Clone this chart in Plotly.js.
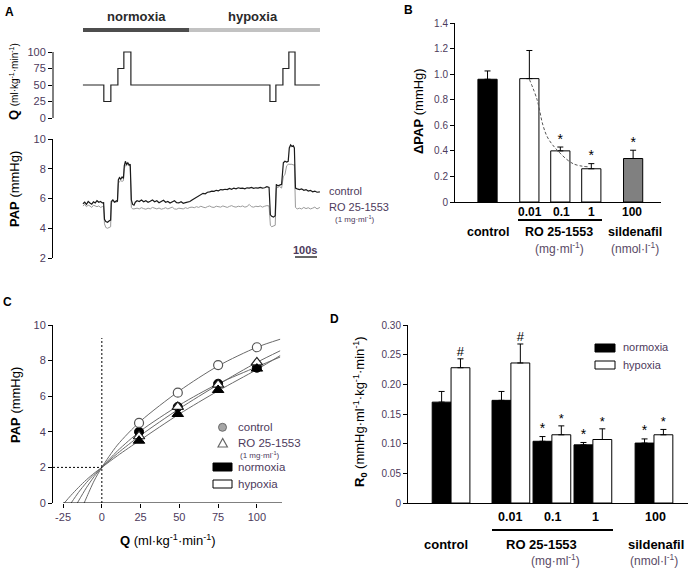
<!DOCTYPE html>
<html><head><meta charset="utf-8">
<script src="https://cdn.plot.ly/plotly-3.0.1.min.js"></script>
<style>html,body{margin:0;padding:0;background:#fff}</style>
</head><body><div id="chart" style="width:693px;height:571px"></div>
<script>
// ---------- Panel A data ----------
const flowTime = [0,95,127,159,186,218,850,877,909,936,964,1077];
const flowQ    = [50,25,50,75,100,50,25,50,75,100,50,50];
const papTime = [0,8,16,24,32,40,48,56,64,72,80,88,94,
  98,104,112,120,126,
  129,136,144,152,157,
  161,166,172,178,184,
  188,193,198,204,210,215,
  220,226,232,238,
  246,256,266,276,286,296,306,316,326,336,346,356,366,376,386,396,406,416,426,436,446,456,466,476,486,
  496,506,516,526,536,546,556,566,576,586,596,606,616,626,636,646,656,666,676,686,696,706,716,726,736,746,756,766,776,786,796,806,816,826,836,846,
  852,858,866,874,
  879,886,894,903,
  911,918,926,933,
  938,944,950,956,961,
  966,974,984,994,1004,1014,1024,1034,1044,1054,1064,1077];
const papControl = [5.65,5.75,5.6,5.8,5.7,5.62,5.78,5.7,5.85,5.75,5.8,5.7,5.72,
  4.6,4.45,4.4,4.5,4.55,
  5.8,5.9,5.75,5.85,5.8,
  7.25,7.4,7.3,7.45,7.35,
  8.2,8.5,8.3,8.4,8.25,8.3,
  5.9,5.6,5.55,5.75,
  5.85,5.8,5.9,5.78,5.85,5.75,5.82,5.9,5.78,5.85,5.72,5.8,5.88,5.75,5.8,5.7,5.78,5.85,5.72,5.7,5.78,5.68,5.72,5.75,5.8,
  5.9,6.0,6.1,6.2,6.25,6.35,6.32,6.42,6.45,6.5,6.48,6.55,6.52,6.6,6.58,6.62,6.6,6.68,6.62,6.7,6.65,6.72,6.68,6.7,6.65,6.72,6.7,6.75,6.68,6.72,6.7,6.75,6.7,6.72,6.8,6.75,
  4.9,4.8,4.75,4.85,
  6.95,6.85,6.9,6.95,
  8.4,8.5,8.45,8.5,
  9.4,9.6,9.5,9.55,9.4,
  6.7,6.65,6.6,6.65,6.55,6.6,6.5,6.55,6.45,6.5,6.42,6.45];
const papRO = [5.5,5.6,5.45,5.55,5.5,5.4,5.55,5.5,5.45,5.5,5.4,5.45,5.5,
  4.3,4.05,4.0,4.05,4.1,
  5.7,5.8,5.75,5.8,5.78,
  7.0,7.15,7.2,7.15,7.2,
  8.0,8.25,8.2,8.3,8.2,8.15,
  5.4,5.3,5.3,5.32,
  5.35,5.3,5.38,5.32,5.28,5.35,5.3,5.4,5.33,5.3,5.36,5.28,5.32,5.38,5.3,5.35,5.42,5.3,5.28,5.35,5.32,5.3,5.38,5.33,5.4,
  5.42,5.38,5.45,5.4,5.48,5.42,5.38,5.45,5.5,5.42,5.4,5.48,5.45,5.42,5.5,5.44,5.4,5.47,5.52,5.45,5.42,5.48,5.45,5.5,5.42,5.46,5.6,5.45,5.42,5.48,5.45,5.5,5.42,5.48,5.52,5.5,
  4.2,4.1,4.15,4.2,
  6.7,6.75,6.8,6.7,
  7.5,7.6,8.2,8.3,
  8.3,8.35,8.3,8.25,8.3,
  5.4,5.3,5.35,5.3,5.4,5.32,5.38,5.3,5.35,5.42,5.3,5.4];

// ---------- Panel B data ----------
const bCategories = ["control","0.01","0.1","1","100"];
const bValues = [0.96,0.965,0.40,0.26,0.34];
const bErrors = [0.065,0.22,0.03,0.04,0.065];
const bSignif = ["","","*","*","*"];
const bFitX = [1.35,1.6,1.79,1.95,2.27,2.76,3.24];
const bFitY = [0.96,0.8,0.6,0.5,0.4,0.3,0.275];

// ---------- Panel C data ----------
const cFlow = [24,49,75,100];
const cHypCtrl = [4.5,6.2,7.75,8.75];
const cNorCtrl = [4.0,5.4,6.7,7.6];
const cHypRO = [3.75,5.4,6.65,7.9];
const cNorRO = [3.5,5.0,6.35,7.55];
const fitHypCtrlQ = [-11.4,-10,-5,0,10,25,50,75,100,115];
const fitHypCtrlP = [0,0.28,1.24,2,3.25,4.6,6.3,7.7,8.75,9.2];
const fitNorCtrlQ = [-15.8,-10,-5,0,10,25,50,75,100,115];
const fitNorCtrlP = [0,0.85,1.48,2,2.92,4.05,5.5,6.7,7.65,8.2];
const fitHypROQ = [-19.8,-15,-10,-5,0,10,25,50,75,100,115];
const fitHypROP = [0,0.6,1.14,1.6,2,2.78,3.8,5.3,6.65,7.9,8.55];
const fitNorROQ = [-24.2,-20,-15,-10,-5,0,10,25,50,75,100,115];
const fitNorROP = [0,0.42,0.88,1.3,1.67,2,2.65,3.55,5.0,6.3,7.5,8.28];
const cTickVals = [-25,0,25,50,75,100];
const cTickText = ["-25","0","25","50","75","100"];

// ---------- Panel D data ----------
const dCategories = ["control","0.01","0.1","1","100"];
const dNormoxia = [0.170,0.173,0.104,0.098,0.101];
const dNormoxiaErr = [0.018,0.015,0.008,0.004,0.007];
const dHypoxia = [0.228,0.236,0.115,0.107,0.115];
const dHypoxiaErr = [0.015,0.032,0.015,0.018,0.009];
const dNormSignif = ["","","*","*","*"];
const dHypSignif = ["#","#","*","*","*"];

// ---------- layout helpers ----------
const W = 693, H = 571;
const X = p => p / W, Y = p => 1 - p / H;
const FONT = 'Liberation Sans, Arial, Helvetica, sans-serif';
const TICKC = '#4d3a5c';
const bPos = [0, 1.35, 2.35, 3.35, 4.7];
const bWidth = 0.62;
const dPos = [0, 1.46, 2.46, 3.46, 4.95];
const dHalf = 0.23;

const traces = [];
traces.push({x: flowTime, y: flowQ, xaxis:'x', yaxis:'y', mode:'lines', line:{shape:'hv', color:'#222', width:1.2}});
traces.push({x: papTime, y: papRO, xaxis:'x2', yaxis:'y2', mode:'lines', line:{color:'#9a9a9a', width:1}});
traces.push({x: papTime, y: papControl, xaxis:'x2', yaxis:'y2', mode:'lines', line:{color:'#1a1a1a', width:1.2}});

traces.push({type:'bar', x: bPos, y: bValues, width: bWidth, xaxis:'x3', yaxis:'y3',
  marker:{color:['#000','#fff','#fff','#fff','#808080'], line:{color:'#000', width:1}},
  error_y:{type:'data', symmetric:false, array:bErrors, arrayminus:[0,0,0,0,0], color:'#000', thickness:1, width:3}});
traces.push({x: bFitX, y: bFitY, xaxis:'x3', yaxis:'y3', mode:'lines', line:{shape:'spline', dash:'3px,2px', color:'#555', width:1}});
traces.push({x: bPos, y: bValues.map((v,i)=>v+bErrors[i]), text: bSignif, xaxis:'x3', yaxis:'y3', mode:'text',
  textposition:'top center', cliponaxis:false, textfont:{family:FONT, size:14, color:'#000'}});

const curveLine = {color:'#6a6a6a', width:1, shape:'spline', smoothing:0.8};
[[fitHypCtrlQ,fitHypCtrlP],[fitNorCtrlQ,fitNorCtrlP],[fitHypROQ,fitHypROP],[fitNorROQ,fitNorROP]].forEach(c=>{
  traces.push({x:c[0], y:c[1], xaxis:'x4', yaxis:'y4', mode:'lines', line:curveLine});
});
traces.push({x:cFlow, y:cNorCtrl, xaxis:'x4', yaxis:'y4', mode:'markers', cliponaxis:false,
  marker:{symbol:'circle', size:9, color:'#000', line:{color:'#000', width:1}}});
traces.push({x:cFlow, y:cHypRO, xaxis:'x4', yaxis:'y4', mode:'markers', cliponaxis:false,
  marker:{symbol:'triangle-up', size:10, color:'#fff', line:{color:'#222', width:1.2}}});
traces.push({x:cFlow, y:cNorRO, xaxis:'x4', yaxis:'y4', mode:'markers', cliponaxis:false,
  marker:{symbol:'triangle-up', size:10, color:'#000', line:{color:'#000', width:1}}});
traces.push({x:cFlow, y:cHypCtrl, xaxis:'x4', yaxis:'y4', mode:'markers', cliponaxis:false,
  marker:{symbol:'circle', size:9, color:'#fff', line:{color:'#555', width:1.2}}});

const dNormX = dPos.map(p => p - dHalf);
const dHypX = dPos.map(p => p + dHalf);
traces.push({type:'bar', x:dNormX, y:dNormoxia, width:2*dHalf, xaxis:'x5', yaxis:'y5',
  marker:{color:'#000', line:{color:'#000', width:1}},
  error_y:{type:'data', symmetric:false, array:dNormoxiaErr, arrayminus:[0,0,0,0,0], color:'#000', thickness:1, width:3}});
traces.push({type:'bar', x:dHypX, y:dHypoxia, width:2*dHalf, xaxis:'x5', yaxis:'y5',
  marker:{color:'#fff', line:{color:'#000', width:1}},
  error_y:{type:'data', symmetric:false, array:dHypoxiaErr, arrayminus:[0,0,0,0,0], color:'#000', thickness:1, width:3}});
traces.push({x:dNormX, y:dNormoxia.map((v,i)=>v+dNormoxiaErr[i]), text:dNormSignif, xaxis:'x5', yaxis:'y5', mode:'text',
  textposition:'top center', cliponaxis:false, textfont:{family:FONT, size:14, color:'#000'}});
traces.push({x:dHypX, y:dHypoxia.map((v,i)=>v+dHypoxiaErr[i]), text:dHypSignif, xaxis:'x5', yaxis:'y5', mode:'text',
  textposition:'top center', cliponaxis:false, textfont:{family:FONT, size:13, color:'#000'}});

const yAx = (extra) => Object.assign({showgrid:false, zeroline:false, ticks:'outside', ticklen:4, tickwidth:1, tickcolor:'#000',
  showline:true, linecolor:'#000', linewidth:1, fixedrange:true}, extra);

const layout = {
  width:W, height:H, margin:{l:0,r:0,t:0,b:0}, showlegend:false,
  paper_bgcolor:'#fff', plot_bgcolor:'rgba(0,0,0,0)', barmode:'overlay',
  font:{family:FONT, color:'#000'},
  xaxis:{domain:[X(53),X(330)], range:[-136,1123], visible:false, anchor:'y'},
  yaxis:yAx({domain:[Y(119.32),Y(50.68)], range:[-2,102], anchor:'x', showline:false,
    tickvals:[0,25,50,75,100], tickfont:{size:11, color:TICKC}}),
  xaxis2:{domain:[X(53),X(330)], range:[-136,1123], visible:false, anchor:'y2'},
  yaxis2:yAx({domain:[Y(258),Y(139)], range:[2,10], anchor:'x2',
    tickvals:[2,4,6,8,10], tickfont:{size:11, color:TICKC}}),
  xaxis3:{domain:[X(455),X(661)], range:[-1.05,5.6], anchor:'y3', showline:true, linecolor:'#000', linewidth:1,
    showticklabels:false, ticks:'', showgrid:false, zeroline:false, fixedrange:true},
  yaxis3:yAx({domain:[Y(202),Y(23)], range:[0,1.4], anchor:'x3',
    tickvals:[0,0.2,0.4,0.6,0.8,1.0,1.2,1.4], ticktext:['0','0.2','0.4','0.6','0.8','1.0','1.2','1.4'],
    tickfont:{size:10, color:TICKC}}),
  xaxis4:{domain:[X(53),X(282)], range:[-31.49,116.2], anchor:'y4', showline:false, ticks:'outside', ticklen:4,
    tickwidth:1, tickcolor:'#000', tickvals:cTickVals, ticktext:cTickText, tickfont:{size:11, color:TICKC},
    showgrid:false, zeroline:false, fixedrange:true},
  yaxis4:yAx({domain:[Y(503),Y(325)], range:[0,10], anchor:'x4',
    tickvals:[0,2,4,6,8,10], tickfont:{size:11, color:TICKC}}),
  xaxis5:{domain:[X(408),X(688)], range:[-1.05,5.78], anchor:'y5', showline:true, linecolor:'#000', linewidth:1,
    showticklabels:false, ticks:'', showgrid:false, zeroline:false, fixedrange:true},
  yaxis5:yAx({domain:[Y(503),Y(325)], range:[0,0.3], anchor:'x5',
    tickvals:[0,0.05,0.1,0.15,0.2,0.25,0.3], ticktext:['0','0.05','0.10','0.15','0.20','0.25','0.30'],
    tickfont:{size:10, color:TICKC}}),
  shapes:[], annotations:[]
};

const S = layout.shapes, A = layout.annotations;
const pline = (x0,y0,x1,y1,w,c,dash) => S.push({type:'line', xref:'paper', yref:'paper', x0:X(x0), y0:Y(y0), x1:X(x1), y1:Y(y1),
  line:{color:c||'#000', width:w||1, dash:dash||'solid'}});
const prect = (x0,y0,x1,y1,fill,lc,lw) => S.push({type:'rect', xref:'paper', yref:'paper', x0:X(x0), y0:Y(y0), x1:X(x1), y1:Y(y1),
  fillcolor:fill, line:{color:lc||fill, width:lw===undefined?0:lw}});
const txt = (t,x,y,size,opt) => A.push(Object.assign({text:t, xref:'paper', yref:'paper', x:X(x), y:Y(y), showarrow:false,
  xanchor:'center', yanchor:'middle', borderpad:0, font:{family:FONT, size:size, color:'#000'}}, opt||{}));

// Panel A
S.push({type:'line', xref:'paper', yref:'y', x0:X(53), x1:X(53), y0:0, y1:100, line:{color:'#000', width:1}});
prect(83,28,189,32,'#4d4d4d');
prect(189,28,320,32,'#c2c2c2');
txt('<b>normoxia</b>',136,17,13,{font:{family:FONT,size:13,color:'#2a2a2a'}});
txt('<b>hypoxia</b>',253,17,13,{font:{family:FONT,size:13,color:'#2a2a2a'}});
txt('<b>A</b>',9,12,12);
txt('<b>Q</b> <span style="font-size:10px">(ml·kg<sup>-1</sup>·min<sup>-1</sup>)</span>',14,82,13,{textangle:-90});
txt('<b>PAP</b> (mmHg)',15,189,13,{textangle:-90});
txt('control',328,191,11,{xanchor:'left', font:{family:FONT,size:11,color:TICKC}});
txt('RO 25-1553',328,207,11,{xanchor:'left', font:{family:FONT,size:11,color:TICKC}});
txt('(1 mg·ml<sup>-1</sup>)',334,219,8,{xanchor:'left', font:{family:FONT,size:8,color:TICKC}});
txt('<b>100s</b>',305,250,11,{font:{family:FONT,size:11,color:TICKC}});
pline(295,257,317,257,1.2,'#000');

// Panel B
txt('<b>B</b>',408,10,12);
txt('<b>ΔPAP</b> (mmHg)',418,111,13,{textangle:-90});
txt('<b>0.01</b>',530,212,12); txt('<b>0.1</b>',561.5,212,12); txt('<b>1</b>',591.7,212,12); txt('<b>100</b>',632,212,12);
pline(518,220,602,220,2.2,'#000');
txt('<b>control</b>',487.5,232,12.5); txt('<b>RO 25-1553</b>',559,232,12.5); txt('<b>sildenafil</b>',635,232,12.5);
txt('(mg·ml<sup>-1</sup>)',559.5,248,12,{font:{family:FONT,size:12,color:'#5a4a66'}});
txt('(nmol·l<sup>-1</sup>)',635,248,12,{font:{family:FONT,size:12,color:'#5a4a66'}});

// Panel C
txt('<b>C</b>',7,302,12);
S.push({type:'line', xref:'x4', yref:'y4', x0:-25, x1:116.2, y0:0, y1:0, line:{color:'#000', width:1}});
S.push({type:'line', xref:'x4', yref:'y4', x0:0, x1:0, y0:0, y1:9.27, line:{color:'#000', width:1, dash:'2px,2px'}});
S.push({type:'line', xref:'x4', yref:'y4', x0:-31.49, x1:0, y0:2, y1:2, line:{color:'#000', width:1, dash:'2px,2px'}});
txt('<b>PAP</b> (mmHg)',15,405,13,{textangle:-90});
txt('<b>Q</b> (ml·kg<sup>-1</sup>·min<sup>-1</sup>)',168,540,13);
S.push({type:'circle', xref:'paper', yref:'paper', x0:X(218.5), x1:X(226.5), y0:Y(431.3), y1:Y(423.3), fillcolor:'#a6a6a6', line:{color:'#6a6a6a', width:1}});
S.push({type:'path', xref:'paper', yref:'paper', path:`M ${X(218)} ${Y(447)} L ${X(222.7)} ${Y(438.5)} L ${X(227.4)} ${Y(447)} Z`, fillcolor:'#fff', line:{color:'#666', width:1.2}});
prect(213,463,232,471,'#000','#000',1);
prect(213,480,232,488,'#fff','#000',1);
const legC = {family:FONT, size:11.5, color:TICKC};
txt('control',237,427,11.5,{xanchor:'left', font:legC});
txt('RO 25-1553',237,443,11.5,{xanchor:'left', font:legC});
txt('(1 mg·ml<sup>-1</sup>)',239,454.5,8,{xanchor:'left', font:{family:FONT,size:8,color:TICKC}});
txt('normoxia',237,467,11.5,{xanchor:'left', font:legC});
txt('hypoxia',237,484,11.5,{xanchor:'left', font:legC});

// Panel D
txt('<b>D</b>',334,319,12);
txt('<b>R<sub>0</sub></b> (mmHg·ml<sup>-1</sup>·kg<sup>-1</sup>·min<sup>-1</sup>)',360,411,13,{textangle:-90});
txt('<b>0.01</b>',509.5,517,12.5); txt('<b>0.1</b>',552.5,517,12.5); txt('<b>1</b>',595,517,12.5); txt('<b>100</b>',655,517,12.5);
pline(492,530,613,530,2.2,'#000');
txt('<b>control</b>',446,544,13); txt('<b>RO 25-1553</b>',541,544,13); txt('<b>sildenafil</b>',655.5,544,13);
txt('(mg·ml<sup>-1</sup>)',555,560,12,{font:{family:FONT,size:12,color:'#5a4a66'}});
txt('(nmol·l<sup>-1</sup>)',654,560,12,{font:{family:FONT,size:12,color:'#5a4a66'}});
prect(595,344,615,352,'#000','#000',1);
prect(595,361,615,369,'#fff','#000',1);
txt('normoxia',622,347,11,{xanchor:'left', font:{family:FONT,size:11,color:TICKC}});
txt('hypoxia',622,365,11,{xanchor:'left', font:{family:FONT,size:11,color:TICKC}});

Plotly.newPlot('chart', traces, layout, {staticPlot:true, displayModeBar:false});
</script>
</body></html>
